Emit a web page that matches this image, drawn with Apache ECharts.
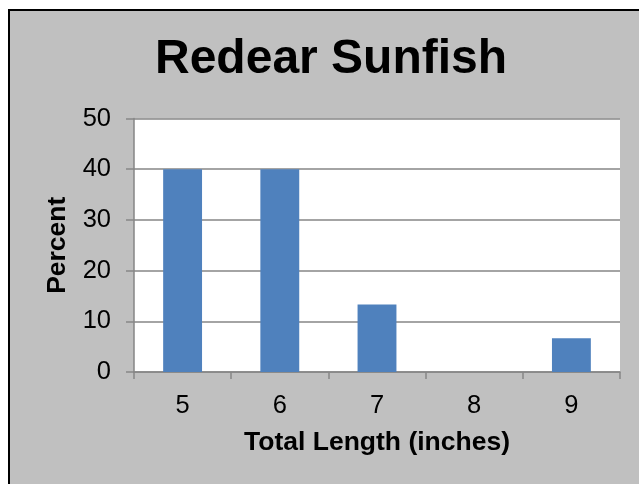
<!DOCTYPE html>
<html>
<head>
<meta charset="utf-8">
<script src="https://cdn.jsdelivr.net/npm/echarts@6/dist/echarts.min.js"></script>
<style>
html,body{margin:0;padding:0;background:#ffffff;}
#chart{width:639px;height:484px;}
</style>
</head>
<body>
<div id="chart"></div>
<script>
var categories = ['5', '6', '7', '8', '9'];
var percentValues = [40, 40, 13.33, 0, 6.67];
var yTicks = [0, 10, 20, 30, 40, 50];
var titleText = 'Redear Sunfish';
var xAxisTitle = 'Total Length (inches)';
var yAxisTitle = 'Percent';

var FONT = "'Liberation Sans', Arial, sans-serif";
var chart = echarts.init(document.getElementById('chart'), null, {renderer: 'canvas'});
chart.setOption({
  backgroundColor: '#ffffff',
  animation: false,
  graphic: [{
    type: 'rect',
    z: -10,
    shape: {x: 9, y: 10, width: 700, height: 600},
    style: {fill: '#c0c0c0', stroke: '#000000', lineWidth: 2}
  }],
  title: {
    text: titleText,
    left: 155,
    top: 36,
    padding: 0,
    textStyle: {fontFamily: FONT, fontSize: 48, fontWeight: 'bold', color: '#000000'}
  },
  grid: {left: 134, right: 19, top: 118.5, bottom: 112, backgroundColor: '#ffffff', show: true, borderWidth: 0},
  xAxis: {
    type: 'category',
    data: categories,
    name: xAxisTitle,
    nameLocation: 'middle',
    nameGap: 57,
    nameTextStyle: {fontFamily: FONT, fontSize: 26.5, fontWeight: 'bold', color: '#000000'},
    axisLine: {lineStyle: {color: '#868686', width: 1.5}},
    axisTick: {show: true, length: 7, alignWithLabel: false, lineStyle: {color: '#868686', width: 1.5}},
    axisLabel: {fontFamily: FONT, fontSize: 25.5, color: '#000000', margin: 21}
  },
  yAxis: {
    type: 'value',
    min: yTicks[0],
    max: yTicks[yTicks.length - 1],
    interval: 10,
    name: yAxisTitle,
    nameLocation: 'middle',
    nameRotate: 90,
    nameGap: 63,
    nameTextStyle: {fontFamily: FONT, fontSize: 26.5, fontWeight: 'bold', color: '#000000'},
    axisLine: {show: true, lineStyle: {color: '#868686', width: 1.5}},
    axisTick: {show: true, length: 8, inside: false, lineStyle: {color: '#868686', width: 1.5}},
    splitLine: {show: true, lineStyle: {color: '#868686', width: 1.5}},
    axisLabel: {fontFamily: FONT, fontSize: 25.5, color: '#000000', margin: 23}
  },
  series: [{
    type: 'bar',
    data: percentValues,
    barWidth: '40%',
    itemStyle: {color: '#4f81bd'}
  }]
});
</script>
</body>
</html>
